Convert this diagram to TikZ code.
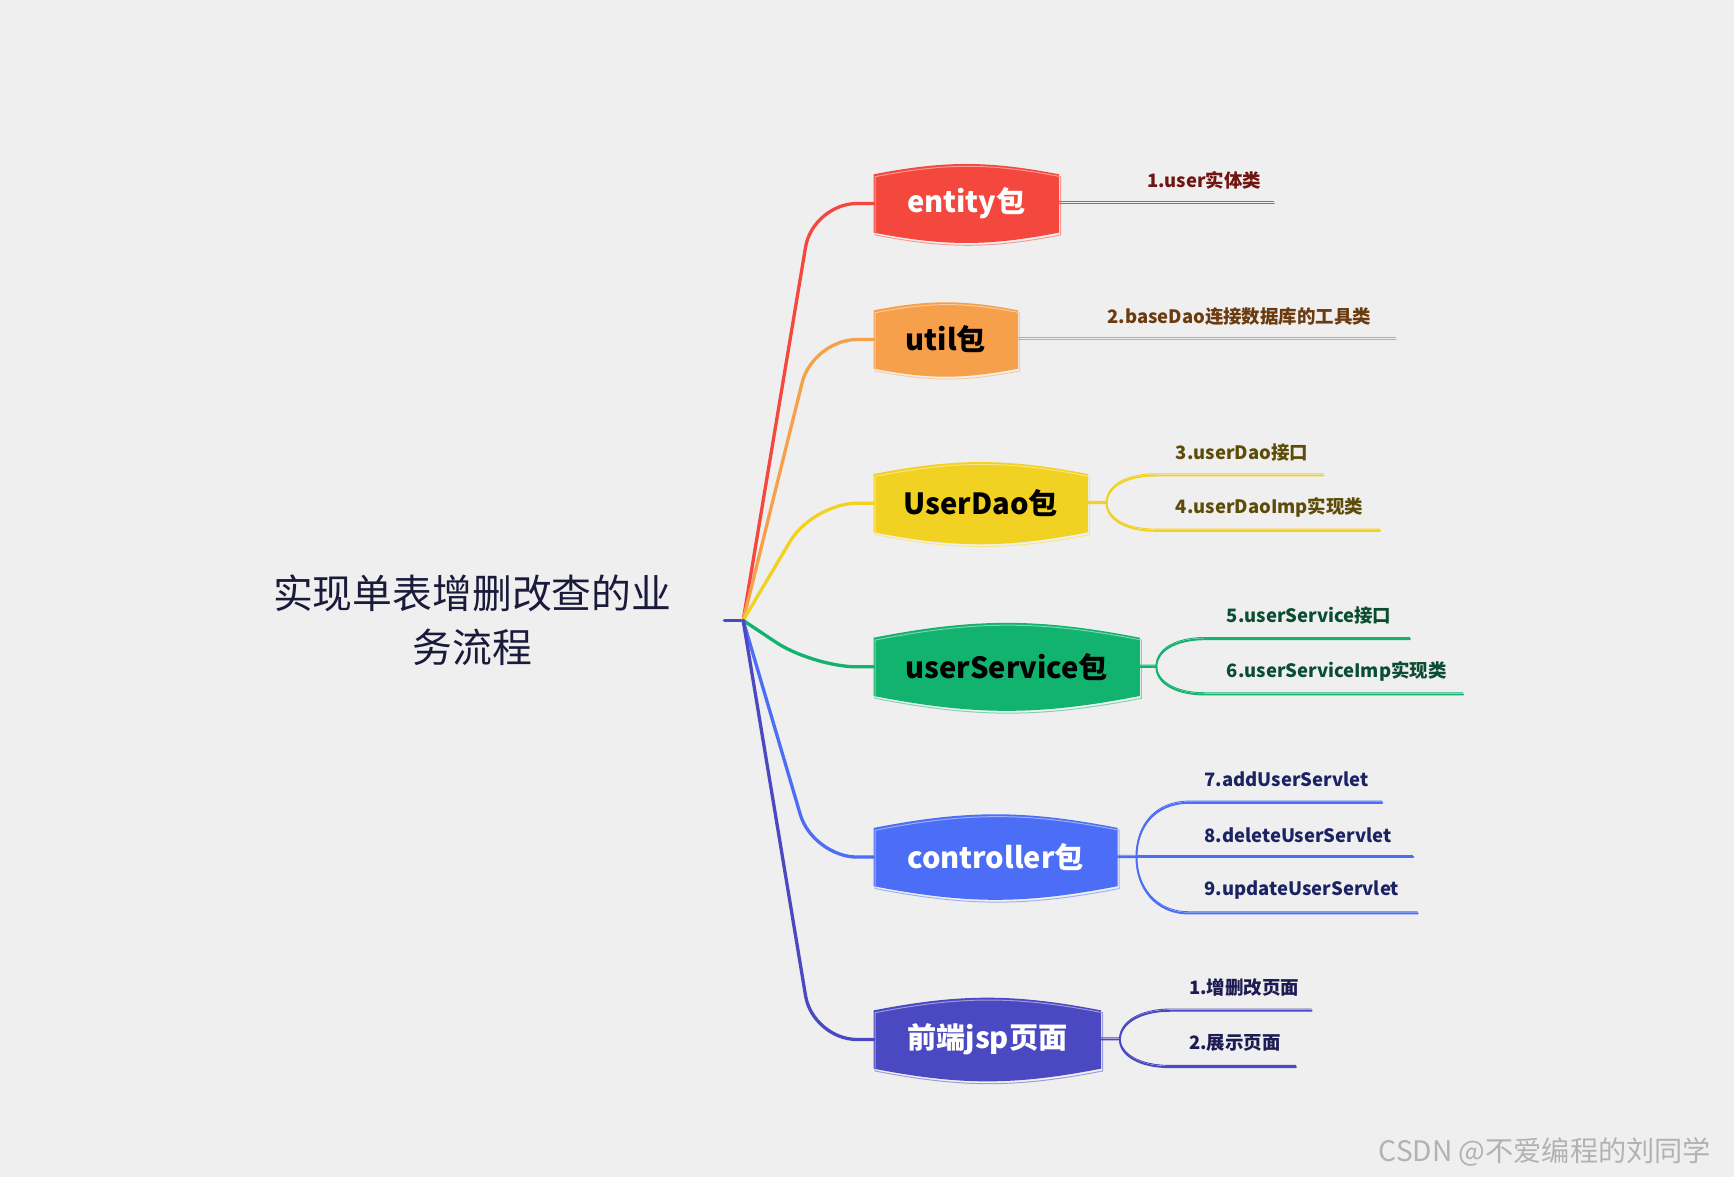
\documentclass[tikz,border=0pt]{standalone}
\usepackage{fontspec}
\setmainfont{Noto Sans CJK SC}
\usepackage{xcolor}
\usetikzlibrary{positioning}
\definecolor{paper}{HTML}{EFEFEF}
\definecolor{cRoot}{HTML}{1B1A3A}
\definecolor{cRed}{HTML}{F4473D}
\definecolor{cOrange}{HTML}{F6A04B}
\definecolor{cYellow}{HTML}{F1D121}
\definecolor{cGreen}{HTML}{12B26F}
\definecolor{cBlue}{HTML}{4C6EF6}
\definecolor{cIndigo}{HTML}{4B49C2}
\definecolor{tRed}{HTML}{701512}
\definecolor{tOrange}{HTML}{6B3B10}
\definecolor{tYellow}{HTML}{5C4C08}
\definecolor{tGreen}{HTML}{0B4D32}
\definecolor{tBlue}{HTML}{1B2363}
\definecolor{tIndigo}{HTML}{1C1B52}
\pgfdeclarelayer{back}
\pgfsetlayers{back,main}
\tikzset{
    %Define style for the title
    roottext/.style={
        align=center,
        text=cRoot,
        font=\fontsize{20.5}{28}\selectfont},
    %Define style for package boxes
    pkg/.style={
        rectangle,
        anchor=west,
        minimum height=1.04cm,
        inner xsep=0.45cm,
        font=\fontsize{15}{18}\selectfont\bfseries},
    %Define style for leaf texts
    leaf/.style={
        anchor=west,
        inner sep=0pt,
        font=\fontsize{9.5}{11}\selectfont\bfseries},
    wmark/.style={
        text=black!30,
        font=\fontsize{14.5}{17}\selectfont},
    % Define line styles
    branch/.style={
        line width=1.7pt,
        line cap=round,
        rounded corners=0.8cm},
    twig/.style={
        draw=#1,
        line width=1pt,
        line cap=round,
        preaction={draw=#1, line width=0.45pt, transform canvas={yshift=0.9pt}}}
}

\begin{document}
\begin{tikzpicture}[x=0.02cm, y=-0.02cm]
    \useasboundingbox (0,0) rectangle (1568,1064);
    %nodes
    \node[roottext] (root) at (427,561) {实现单表增删改查的业\\务流程};
    \coordinate (stub) at (655,561);
    \coordinate (hub) at (672,561);
    \node[pkg, minimum width=3.34cm, text=white] (entity) at (790,184) {entity包};
    \node[pkg, minimum width=2.6cm] (util) at (790,307) {util包};
    \node[pkg, minimum width=3.86cm] (dao) at (790,455) {UserDao包};
    \node[pkg, minimum width=4.8cm] (service) at (790,603) {userService包};
    \node[pkg, minimum width=4.4cm, text=white] (ctrl) at (790,775) {controller包};
    \node[pkg, minimum width=4.1cm, text=white] (jsp) at (790,940) {前端jsp页面};
    % leaves
    \node[leaf, text=tRed] (e1) at (1037,163) {1.user实体类};
    \node[leaf, text=tOrange] (u2) at (1001,286) {2.baseDao连接数据库的工具类};
    \node[leaf, text=tYellow] (d3) at (1063,409) {3.userDao接口};
    \node[leaf, text=tYellow] (d4) at (1063,459) {4.userDaoImp实现类};
    \node[leaf, text=tGreen] (s5) at (1109,557) {5.userService接口};
    \node[leaf, text=tGreen] (s6) at (1109,607) {6.userServiceImp实现类};
    \node[leaf, text=tBlue] (c7) at (1089,705) {7.addUserServlet};
    \node[leaf, text=tBlue] (c8) at (1089,755) {8.deleteUserServlet};
    \node[leaf, text=tBlue] (c9) at (1089,805) {9.updateUserServlet};
    \node[leaf, text=tIndigo] (j1) at (1075,893) {1.增删改页面};
    \node[leaf, text=tIndigo] (j2) at (1075,943) {2.展示页面};
    \node[wmark] (csdn) at (1397,1042) {CSDN @不爱编程的刘同学};
    % branches from the title
    \draw[branch, cIndigo] (stub) -- (hub);
    \draw[branch, cRed] (hub) -- ([xshift=-1.1cm]entity.west) -- (entity.west);
    \draw[branch, cOrange] (hub) -- ([xshift=-1.1cm]util.west) -- (util.west);
    \draw[branch, cYellow] (hub) -- ([xshift=-1.1cm]dao.west) -- (dao.west);
    \draw[branch, cGreen] (hub) -- ([xshift=-1.1cm]service.west) -- (service.west);
    \draw[branch, cBlue] (hub) -- ([xshift=-1.1cm]ctrl.west) -- (ctrl.west);
    \draw[branch, cIndigo] (hub) -- ([xshift=-1.1cm]jsp.west) -- (jsp.west);
    % twigs to the leaves
    \coordinate (e1end) at (1152,184);
    \draw[twig=cRed] (entity.east) -- (e1end);
    \coordinate (u2end) at (1262,307);
    \draw[twig=cOrange] (util.east) -- (u2end);
    \coordinate (daofork) at ([xshift=0.34cm]dao.east);
    \coordinate (d3a) at (1045,430);
    \coordinate (d3b) at (1197,430);
    \coordinate (d4a) at (1045,480);
    \coordinate (d4b) at (1248,480);
    \draw[twig=cYellow] (dao.east) -- (daofork) .. controls +(0,-14) and +(-28,0) .. (d3a) -- (d3b);
    \draw[twig=cYellow] (daofork) .. controls +(0,14) and +(-28,0) .. (d4a) -- (d4b);
    \coordinate (servicefork) at ([xshift=0.3cm]service.east);
    \coordinate (s5a) at (1090,578);
    \coordinate (s5b) at (1275,578);
    \coordinate (s6a) at (1090,628);
    \coordinate (s6b) at (1323,628);
    \draw[twig=cGreen] (service.east) -- (servicefork) .. controls +(0,-14) and +(-28,0) .. (s5a) -- (s5b);
    \draw[twig=cGreen] (servicefork) .. controls +(0,14) and +(-28,0) .. (s6a) -- (s6b);
    \coordinate (ctrlfork) at ([xshift=0.34cm]ctrl.east);
    \coordinate (c7a) at (1075,726);
    \coordinate (c7b) at (1250,726);
    \coordinate (c8b) at (1278,775);
    \coordinate (c9a) at (1075,826);
    \coordinate (c9b) at (1282,826);
    \draw[twig=cBlue] (ctrl.east) -- (ctrlfork) .. controls +(0,-28) and +(-30,0) .. (c7a) -- (c7b);
    \draw[twig=cBlue] (ctrlfork) -- (c8b);
    \draw[twig=cBlue] (ctrlfork) .. controls +(0,28) and +(-30,0) .. (c9a) -- (c9b);
    \coordinate (jspfork) at ([xshift=0.34cm]jsp.east);
    \coordinate (j1a) at (1058,914);
    \coordinate (j1b) at (1186,914);
    \coordinate (j2a) at (1058,965);
    \coordinate (j2b) at (1172,965);
    \draw[twig=cIndigo] (jsp.east) -- (jspfork) .. controls +(0,-14) and +(-28,0) .. (j1a) -- (j1b);
    \draw[twig=cIndigo] (jspfork) .. controls +(0,14) and +(-28,0) .. (j2a) -- (j2b);
    % paper and box shapes behind the texts
    \begin{pgfonlayer}{back}
        \fill[paper] (0,0) rectangle (1568,1064);
        \foreach \p/\col in {entity/cRed, util/cOrange, dao/cYellow, service/cGreen, ctrl/cBlue, jsp/cIndigo} {
            \fill[fill=\col] (\p.south west) -- (\p.north west) to[bend left=11] (\p.north east)
                -- (\p.south east) to[bend left=11] cycle;
            \draw[draw=\col!55!white, line width=0.5pt, transform canvas={shift={(0.8pt,-1.2pt)}}]
                (\p.south west) -- (\p.north west) to[bend left=11] (\p.north east)
                -- (\p.south east) to[bend left=11] cycle;
        }
    \end{pgfonlayer}
\end{tikzpicture}
\end{document}
